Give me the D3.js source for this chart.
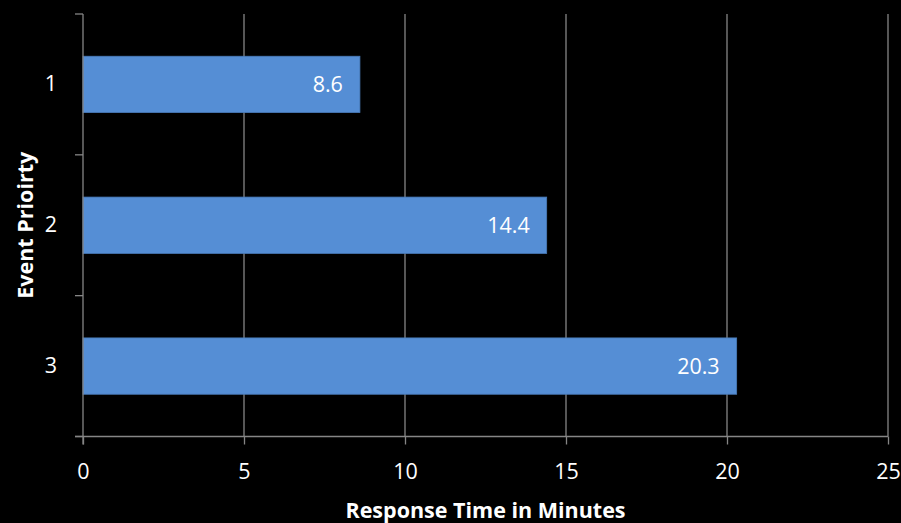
<!DOCTYPE html>
<html>
<head>
<meta charset="utf-8">
<script src="https://cdn.jsdelivr.net/npm/d3@7"></script>
<style>
  body { margin: 0; background: #000; }
  text { font-family: "Open Sans", "Liberation Sans", sans-serif; }
</style>
</head>
<body>
<div id="chart"></div>
<script>
// data
const priorities = ["1", "2", "3"];
const responseTimes = [8.6, 14.4, 20.3];
const xTicks = [0, 5, 10, 15, 20, 25];

const width = 901, height = 523;
const plotLeft = 83, plotRight = 888, plotTop = 14, plotBottom = 436.5;
const fontSize = 21.5;

const svg = d3.select("#chart").append("svg")
  .attr("width", width).attr("height", height)
  .style("background", "#000");

const x = d3.scaleLinear().domain([0, 25]).range([plotLeft, plotRight]);
const y = d3.scaleBand().domain(priorities).range([plotTop, plotBottom])
  .paddingInner(0.6).paddingOuter(0.3);

const gridColor = "#868686";

// vertical gridlines
svg.append("g").selectAll("line")
  .data(xTicks.filter(d => d > 0))
  .join("line")
  .attr("x1", d => x(d)).attr("x2", d => x(d))
  .attr("y1", plotTop).attr("y2", plotBottom)
  .attr("stroke", gridColor).attr("stroke-width", 1.3);

// bars
svg.append("g").selectAll("rect")
  .data(responseTimes)
  .join("rect")
  .attr("x", x(0))
  .attr("y", (d, i) => y(priorities[i]))
  .attr("width", d => x(d) - x(0))
  .attr("height", y.bandwidth())
  .attr("fill", "#558ED5")
  .attr("stroke", "#4a7bb8").attr("stroke-width", 0.8);

// value labels
svg.append("g").selectAll("text")
  .data(responseTimes)
  .join("text")
  .attr("x", d => x(d) - 17)
  .attr("y", (d, i) => y(priorities[i]) + y.bandwidth() / 2)
  .attr("dy", "0.36em")
  .attr("text-anchor", "end")
  .attr("fill", "#fff")
  .attr("font-size", fontSize)
  .text(d => d);

// x axis
const xAxis = svg.append("g")
  .attr("transform", `translate(0,${plotBottom})`)
  .call(d3.axisBottom(x).tickValues(xTicks).tickSize(8).tickPadding(19).tickSizeOuter(0));
xAxis.select(".domain").attr("stroke", gridColor).attr("stroke-width", 1.3)
  .attr("d", `M${plotLeft - 8},0H${plotRight}`);
xAxis.selectAll(".tick line").attr("stroke", gridColor).attr("stroke-width", 1.3);
xAxis.selectAll(".tick text").attr("fill", "#fff").attr("font-size", fontSize)
  .style("font-family", "'Open Sans', 'Liberation Sans', sans-serif");

// y axis
const yAxis = svg.append("g")
  .attr("transform", `translate(${plotLeft},0)`)
  .call(d3.axisLeft(y).tickSize(0).tickPadding(26));
yAxis.select(".domain").attr("stroke", gridColor).attr("stroke-width", 1.3)
  .attr("d", `M0,${plotTop}V${plotBottom + 8}`);
yAxis.selectAll(".tick text").attr("fill", "#fff").attr("font-size", fontSize)
  .style("font-family", "'Open Sans', 'Liberation Sans', sans-serif");

// y category boundary ticks
const step = (plotBottom - plotTop) / priorities.length;
svg.append("g").selectAll("line")
  .data(d3.range(priorities.length + 1))
  .join("line")
  .attr("x1", plotLeft - 8).attr("x2", plotLeft)
  .attr("y1", d => plotTop + d * step).attr("y2", d => plotTop + d * step)
  .attr("stroke", gridColor).attr("stroke-width", 1.3);

// axis titles
svg.append("text")
  .attr("x", 485.5).attr("y", 518)
  .attr("text-anchor", "middle")
  .attr("fill", "#fff").attr("font-size", fontSize).attr("font-weight", "bold")
  .text("Response Time in Minutes");

svg.append("text")
  .attr("transform", `translate(33,${(plotTop + plotBottom) / 2}) rotate(-90)`)
  .attr("text-anchor", "middle")
  .attr("fill", "#fff").attr("font-size", fontSize).attr("font-weight", "bold")
  .text("Event Prioirty");
</script>
</body>
</html>
